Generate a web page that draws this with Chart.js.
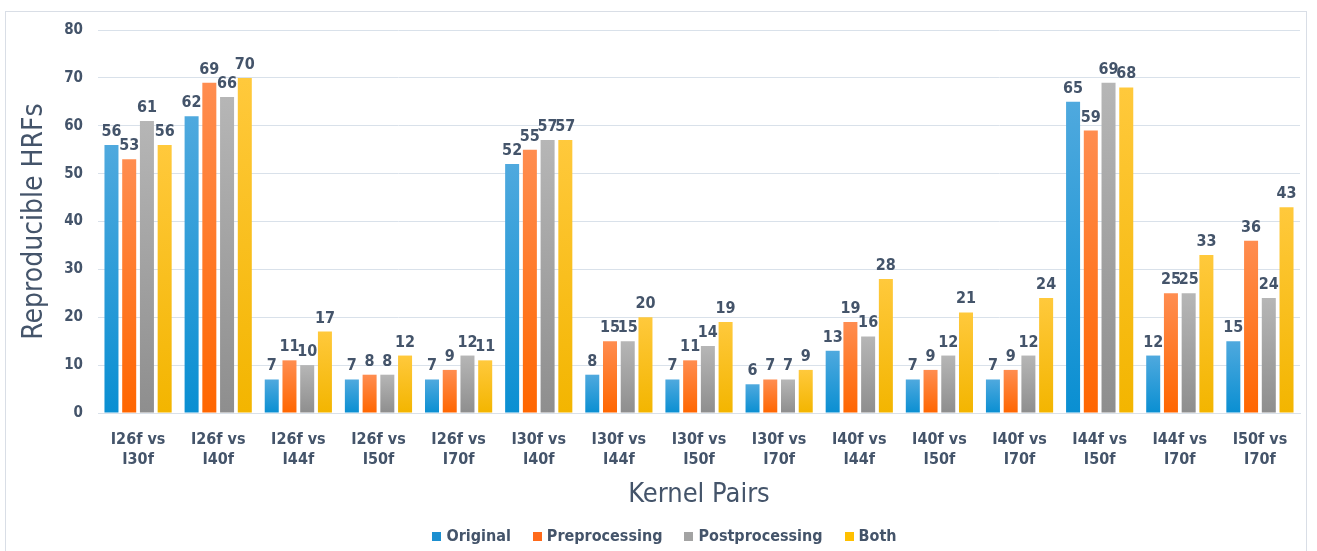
<!DOCTYPE html>
<html>
<head>
<meta charset="utf-8">
<script src="https://cdn.jsdelivr.net/npm/chart.js@4.4.1/dist/chart.umd.min.js"></script>
<style>
  html, body { margin: 0; padding: 0; background: #ffffff; }
  #wrap { position: relative; width: 1317px; height: 551px; overflow: hidden; }
  #frame { position: absolute; left: 5px; top: 11px; width: 1302px; height: 600px; border: 1px solid #d9dee6; box-sizing: border-box; }
  canvas { position: absolute; left: 0; top: 0; }
</style>
</head>
<body>
<div id="wrap">
  <div id="frame"></div>
  <canvas id="chart" width="1317" height="551"></canvas>
</div>
<script>
// Kernel pairs on the x axis (two-line labels)
const categories = [
  ['I26f vs', 'I30f'], ['I26f vs', 'I40f'], ['I26f vs', 'I44f'], ['I26f vs', 'I50f'],
  ['I26f vs', 'I70f'], ['I30f vs', 'I40f'], ['I30f vs', 'I44f'], ['I30f vs', 'I50f'],
  ['I30f vs', 'I70f'], ['I40f vs', 'I44f'], ['I40f vs', 'I50f'], ['I40f vs', 'I70f'],
  ['I44f vs', 'I50f'], ['I44f vs', 'I70f'], ['I50f vs', 'I70f']
];

// Reproducible HRF counts per processing variant
const original       = [56, 62, 7, 7, 7, 52, 8, 7, 6, 13, 7, 7, 65, 12, 15];
const preprocessing  = [53, 69, 11, 8, 9, 55, 15, 11, 7, 19, 9, 9, 59, 25, 36];
const postprocessing = [61, 66, 10, 8, 12, 57, 15, 14, 7, 16, 12, 12, 69, 25, 24];
const both           = [56, 70, 17, 12, 11, 57, 20, 19, 9, 28, 21, 24, 68, 33, 43];

const seriesNames = ['Original', 'Preprocessing', 'Postprocessing', 'Both'];
const yTicks = [0, 10, 20, 30, 40, 50, 60, 70, 80];

const FONT = "'DejaVu Sans Condensed', 'Liberation Sans Narrow', Roboto, sans-serif";
const TEXT = '#44546a';

// top / bottom shades of each bar fill, plus the flat legend swatch
const palette = [
  { top: '#4fa9de', bottom: '#0a8fd2', flat: '#1c8fd0' },
  { top: '#ff8d50', bottom: '#ff6600', flat: '#ff6a1a' },
  { top: '#b6b6b6', bottom: '#8e8e8e', flat: '#a3a3a3' },
  { top: '#ffc93c', bottom: '#f3b500', flat: '#ffc000' }
];

function barFill(idx) {
  return (ctx) => {
    const chart = ctx.chart;
    const y = chart.scales && chart.scales.y;
    if (!chart.chartArea || !y || ctx.type !== 'data') return palette[idx].flat;
    const top = y.getPixelForValue(ctx.raw);
    const base = y.getPixelForValue(0);
    if (!isFinite(top) || !isFinite(base) || base - top < 1) return palette[idx].flat;
    const g = chart.ctx.createLinearGradient(0, top, 0, base);
    g.addColorStop(0, palette[idx].top);
    g.addColorStop(1, palette[idx].bottom);
    return g;
  };
}

// value labels above each bar
const valueLabels = {
  id: 'valueLabels',
  afterDatasetsDraw(chart) {
    const c = chart.ctx;
    c.save();
    c.font = `bold 16px ${FONT}`;
    c.fillStyle = TEXT;
    c.textAlign = 'center';
    c.textBaseline = 'alphabetic';
    chart.data.datasets.forEach((ds, i) => {
      chart.getDatasetMeta(i).data.forEach((bar, j) => {
        c.fillText(String(ds.data[j]), bar.x, bar.y - 9);
      });
    });
    c.restore();
  }
};

// legend row along the bottom edge: square swatch + series name
const legendRow = {
  id: 'legendRow',
  afterDraw(chart) {
    const c = chart.ctx;
    const box = 9, gapText = 5, gapItem = 22, cy = 536;
    c.save();
    c.font = `bold 16px ${FONT}`;
    c.textBaseline = 'middle';
    c.textAlign = 'left';
    const widths = seriesNames.map(n => box + gapText + c.measureText(n).width);
    const total = widths.reduce((a, b) => a + b, 0) + gapItem * (widths.length - 1);
    let x = chart.width / 2 + 6 - total / 2;
    seriesNames.forEach((n, i) => {
      c.fillStyle = palette[i].flat;
      c.fillRect(Math.round(x), Math.round(cy - box / 2), box, box);
      c.fillStyle = TEXT;
      c.fillText(n, x + box + gapText, cy + 1);
      x += widths[i] + gapItem;
    });
    c.restore();
  }
};

const seriesData = [original, preprocessing, postprocessing, both];

const PAD_LEFT = 8;
const PLOT_LEFT = 98;
const X_AXIS_HEIGHT = 100;

new Chart(document.getElementById('chart'), {
  type: 'bar',
  data: {
    labels: categories,
    datasets: seriesData.map((d, i) => ({
      label: seriesNames[i],
      data: d,
      backgroundColor: barFill(i),
      borderWidth: 0,
      categoryPercentage: 0.885,
      barPercentage: 0.79
    }))
  },
  options: {
    responsive: false,
    animation: false,
    devicePixelRatio: 1,
    layout: { padding: { top: 30, right: 17, left: PAD_LEFT, bottom: 38 } },
    plugins: {
      tooltip: { enabled: false },
      legend: { display: false }
    },
    scales: {
      y: {
        min: 0,
        max: 80,
        afterBuildTicks(scale) { scale.ticks = yTicks.map(v => ({ value: v })); },
        afterFit(scale) { scale.width = PLOT_LEFT - PAD_LEFT; },
        grid: { color: '#d9e1ea', lineWidth: 1, drawTicks: false },
        border: { display: false },
        ticks: {
          padding: 15,
          color: TEXT,
          font: { family: FONT, size: 15, weight: 'bold' }
        },
        title: {
          display: true,
          text: 'Reproducible HRFs',
          color: TEXT,
          font: { family: FONT, size: 28 },
          padding: { top: 10, bottom: 0 }
        }
      },
      x: {
        afterFit(scale) { scale.height = X_AXIS_HEIGHT; },
        grid: { display: false },
        border: { display: true, color: '#d9e1ea' },
        ticks: {
          color: TEXT,
          padding: 8,
          maxRotation: 0,
          autoSkip: false,
          font: { family: FONT, size: 16, weight: 'bold', lineHeight: 1.3 }
        },
        title: {
          display: true,
          text: 'Kernel Pairs',
          color: TEXT,
          font: { family: FONT, size: 27 },
          padding: { top: 0, bottom: 2 }
        }
      }
    }
  },
  plugins: [valueLabels, legendRow]
});
</script>
</body>
</html>
